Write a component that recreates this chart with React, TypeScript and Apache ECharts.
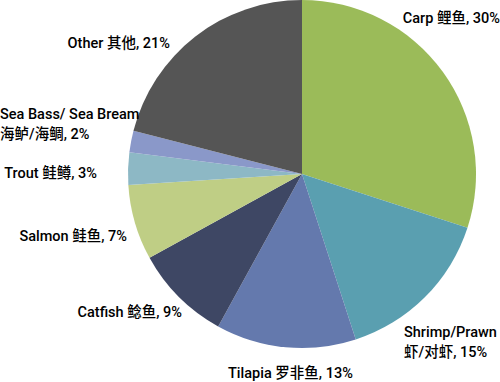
import React, { useEffect, useRef } from "react";
import * as echarts from "echarts";

const categories = [
  "Carp 鲤鱼",
  "Shrimp/Prawn\n虾/对虾",
  "Tilapia 罗非鱼",
  "Catfish 鲶鱼",
  "Salmon 鲑鱼",
  "Trout 鲑鳟",
  "Sea Bass/ Sea Bream\n海鲈/海鲷",
  "Other 其他",
];
const shares = [30, 15, 13, 9, 7, 3, 2, 21];
const colors = ["#9BBB59", "#5A9FB0", "#6479AD", "#3E4764", "#BFCE85", "#8DB8C5", "#8A98C9", "#555555"];

// label anchor placement (layout only)
const labelPlace = [
  { x: 500, y: 18, align: "right" },
  { x: 404, y: 342, align: "left" },
  { x: 228, y: 373, align: "left" },
  { x: 182, y: 312, align: "right" },
  { x: 127, y: 236, align: "right" },
  { x: 97, y: 173, align: "right" },
  { x: 0, y: 124, align: "left" },
  { x: 170, y: 43, align: "right" },
];

export default function App() {
  const ref = useRef<HTMLDivElement>(null);
  useEffect(() => {
    if (!ref.current) return;
    const chart = echarts.init(ref.current, undefined, { renderer: "svg" });
    chart.setOption({
      animation: false,
      backgroundColor: "#ffffff",
      series: [
        {
          type: "pie",
          center: [302, 174],
          radius: 174,
          startAngle: 90,
          clockwise: true,
          avoidLabelOverlap: false,
          data: categories.map((name, i) => ({
            name,
            value: shares[i],
            itemStyle: { color: colors[i] },
          })),
          itemStyle: { borderWidth: 0 },
          label: {
            show: true,
            position: "outside",
            formatter: (p: any) => `${p.name}, ${p.value}%`,
            color: "#000000",
            fontFamily: "Roboto, 'Noto Sans CJK SC', sans-serif",
            fontWeight: 500,
            fontSize: 14.5,
            lineHeight: 20,
          },
          labelLine: { show: false },
          labelLayout: (params: any) => {
            const p = labelPlace[params.dataIndex];
            return { x: p.x, y: p.y, align: p.align, verticalAlign: "middle" };
          },
          emphasis: { disabled: true },
        },
      ],
    });
    return () => chart.dispose();
  }, []);
  return <div ref={ref} style={{ position: "fixed", left: 0, top: 0, width: 500, height: 382 }} />;
}
